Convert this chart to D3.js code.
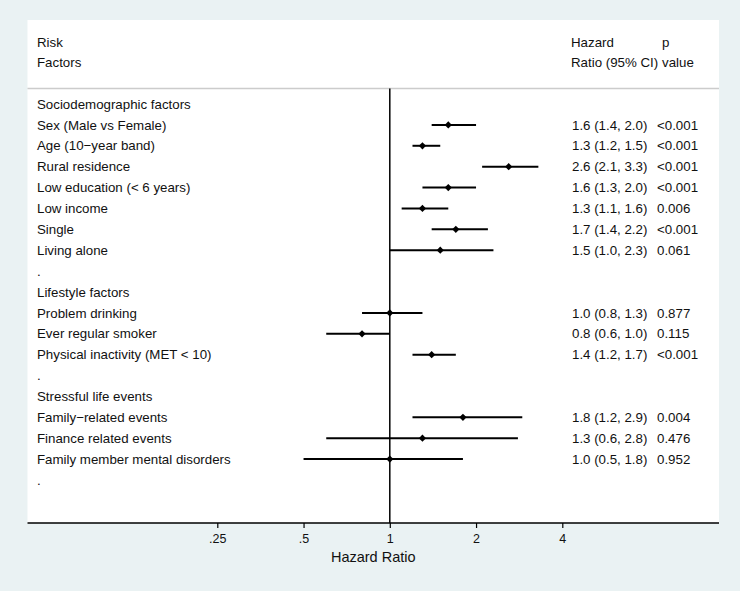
<!DOCTYPE html>
<html>
<head>
<meta charset="utf-8">
<script src="https://cdn.jsdelivr.net/npm/d3@7"></script>
<style>
  html, body { margin: 0; padding: 0; background: #eaf2f3; }
  svg { display: block; }
  text { font-family: "Liberation Sans", Arial, Helvetica, sans-serif; fill: #111; }
</style>
</head>
<body>
<svg id="chart" width="740" height="591"></svg>
<script>
// ---- data ----
const labels = [
  "Sociodemographic factors", "Sex (Male vs Female)", "Age (10\u2212year band)", "Rural residence",
  "Low education (< 6 years)", "Low income", "Single", "Living alone", ".",
  "Lifestyle factors", "Problem drinking", "Ever regular smoker", "Physical inactivity (MET < 10)", ".",
  "Stressful life events", "Family\u2212related events", "Finance related events",
  "Family member mental disorders", "."
];
const hr    = [null, 1.6, 1.3, 2.6, 1.6, 1.3, 1.7, 1.5, null, null, 1.0, 0.8, 1.4, null, null, 1.8, 1.3, 1.0, null];
const ciLow = [null, 1.4, 1.2, 2.1, 1.3, 1.1, 1.4, 1.0, null, null, 0.8, 0.6, 1.2, null, null, 1.2, 0.6, 0.5, null];
const ciHigh= [null, 2.0, 1.5, 3.3, 2.0, 1.6, 2.2, 2.3, null, null, 1.3, 1.0, 1.7, null, null, 2.9, 2.8, 1.8, null];
const pValues = [null, "<0.001", "<0.001", "<0.001", "<0.001", "0.006", "<0.001", "0.061", null,
  null, "0.877", "0.115", "<0.001", null, null, "0.004", "0.476", "0.952", null];
const tickValues = [0.25, 0.5, 1, 2, 4];
const tickLabels = [".25", ".5", "1", "2", "4"];

// ---- layout ----
const svg = d3.select("#chart");
const W = 740, H = 591;
const plot = { left: 27.5, right: 719, top: 20, bottom: 523 };
const sepY = 88.5;

svg.append("rect").attr("x", 0).attr("y", 0).attr("width", W).attr("height", H).attr("fill", "#eaf2f3");
svg.append("rect").attr("x", plot.left).attr("y", plot.top)
  .attr("width", plot.right - plot.left).attr("height", plot.bottom - plot.top).attr("fill", "#ffffff");

const x = d3.scaleLog().base(2).domain([0.25, 4]).range([217.3, 562.3]);
const y = d3.scaleLinear().domain([0, labels.length - 1]).range([104, 480]);

const fmt = d => d.toFixed(1);

// header
const hdr = svg.append("g");
hdr.append("text").attr("x", 37).attr("y", 42).attr("dy", "0.35em").style("font-size", "13.3px").text("Risk");
hdr.append("text").attr("x", 37).attr("y", 62.5).attr("dy", "0.35em").style("font-size", "13.3px").text("Factors");
hdr.append("text").attr("x", 571).attr("y", 42).attr("dy", "0.35em").style("font-size", "13.3px").text("Hazard");
hdr.append("text").attr("x", 571).attr("y", 62.5).attr("dy", "0.35em").style("font-size", "13.3px").text("Ratio (95% CI)");
hdr.append("text").attr("x", 662).attr("y", 42).attr("dy", "0.35em").style("font-size", "13.3px").text("p");
hdr.append("text").attr("x", 662).attr("y", 62.5).attr("dy", "0.35em").style("font-size", "13.3px").text("value");

// separator
svg.append("line").attr("x1", plot.left).attr("x2", plot.right).attr("y1", sepY).attr("y2", sepY)
  .attr("stroke", "#cccccc").attr("stroke-width", 1.5);

// reference line at 1
svg.append("line").attr("x1", x(1)).attr("x2", x(1)).attr("y1", sepY).attr("y2", plot.bottom)
  .attr("stroke", "#000").attr("stroke-width", 1.5);

// rows
const rows = labels.map((l, i) => ({ i, label: l, hr: hr[i], lo: ciLow[i], hi: ciHigh[i], p: pValues[i] }));

svg.append("g").selectAll("text").data(rows).join("text")
  .attr("x", 37).attr("y", d => y(d.i)).attr("dy", "0.35em")
  .style("font-size", "13.3px").text(d => d.label);

const est = rows.filter(d => d.hr !== null);

svg.append("g").selectAll("line").data(est).join("line")
  .attr("x1", d => x(d.lo)).attr("x2", d => x(d.hi))
  .attr("y1", d => y(d.i)).attr("y2", d => y(d.i))
  .attr("stroke", "#000").attr("stroke-width", 2);

svg.append("g").selectAll("path").data(est).join("path")
  .attr("d", d => {
    const cx = x(d.hr), cy = y(d.i), r = 3.6;
    return `M${cx},${cy - r}L${cx + r},${cy}L${cx},${cy + r}L${cx - r},${cy}Z`;
  })
  .attr("fill", "#000");

svg.append("g").selectAll("text").data(est).join("text")
  .attr("x", 572).attr("y", d => y(d.i)).attr("dy", "0.35em")
  .style("font-size", "13.3px")
  .text(d => `${fmt(d.hr)} (${fmt(d.lo)}, ${fmt(d.hi)})`);

svg.append("g").selectAll("text").data(est).join("text")
  .attr("x", 657).attr("y", d => y(d.i)).attr("dy", "0.35em")
  .style("font-size", "13.3px")
  .text(d => d.p);

// x axis
const axis = d3.axisBottom(x).tickValues(tickValues)
  .tickFormat((d, i) => tickLabels[i]).tickSize(5).tickSizeOuter(0);
const ag = svg.append("g").attr("transform", `translate(0,${plot.bottom})`).call(axis);
ag.select(".domain").remove();
ag.append("line").attr("x1", plot.left).attr("x2", plot.right).attr("y1", 0).attr("y2", 0)
  .attr("stroke", "#000").attr("stroke-width", 1.5);
ag.selectAll(".tick line").attr("stroke", "#000").attr("stroke-width", 1.2);
ag.selectAll(".tick text").attr("y", 11).attr("dy", "0.71em")
  .style("font-size", "12.5px").style("font-family", "'Liberation Sans', Arial, sans-serif").attr("fill", "#111");

svg.append("text").attr("x", (plot.left + plot.right) / 2).attr("y", 557).attr("dy", "0.35em")
  .attr("text-anchor", "middle").style("font-size", "14.5px").text("Hazard Ratio");
</script>
</body>
</html>
